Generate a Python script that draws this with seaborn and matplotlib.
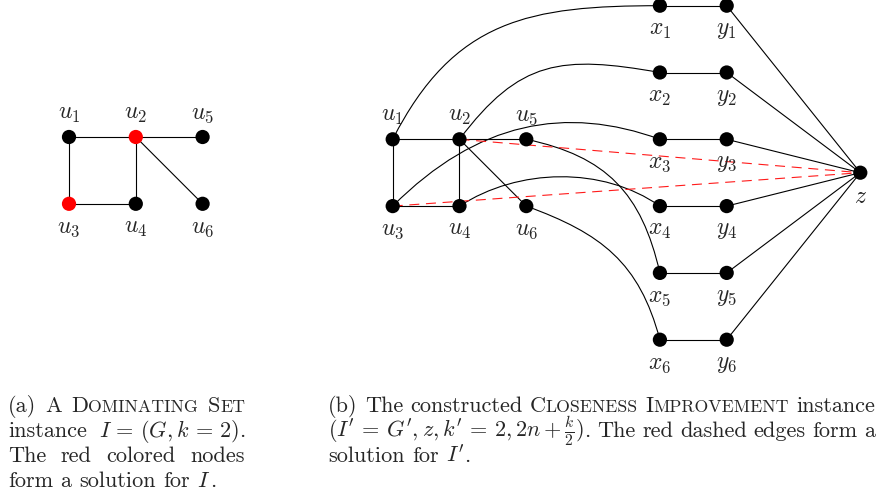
import numpy as np
import pandas as pd
import matplotlib
matplotlib.use("Agg")
import matplotlib.pyplot as plt
from matplotlib.path import Path
from matplotlib.patches import PathPatch
import seaborn as sns

sns.set_theme(style="white")
plt.rcParams["mathtext.fontset"] = "cm"
plt.rcParams["font.family"] = ["cmr10", "DejaVu Serif"]

# ---------------- data ----------------
# left graph G (dominating set instance)
left_nodes = ["u1", "u2", "u5", "u3", "u4", "u6"]
left_labels = [r"$u_1$", r"$u_2$", r"$u_5$", r"$u_3$", r"$u_4$", r"$u_6$"]
left_col = [0, 1, 2, 0, 1, 2]
left_row = [0, 0, 0, 1, 1, 1]
left_color = ["black", "red", "black", "red", "black", "black"]
left_edges = [("u1", "u2"), ("u2", "u5"), ("u1", "u3"), ("u3", "u4"),
              ("u2", "u4"), ("u2", "u6")]

# right graph G' (closeness improvement instance)
right_nodes = ["u1", "u2", "u5", "u3", "u4", "u6",
               "x1", "x2", "x3", "x4", "x5", "x6",
               "y1", "y2", "y3", "y4", "y5", "y6", "z"]
right_labels = [r"$u_1$", r"$u_2$", r"$u_5$", r"$u_3$", r"$u_4$", r"$u_6$",
                r"$x_1$", r"$x_2$", r"$x_3$", r"$x_4$", r"$x_5$", r"$x_6$",
                r"$y_1$", r"$y_2$", r"$y_3$", r"$y_4$", r"$y_5$", r"$y_6$", r"$z$"]
right_col = [0, 1, 2, 0, 1, 2, 4, 4, 4, 4, 4, 4, 5, 5, 5, 5, 5, 5, 7]
right_row = [2, 2, 2, 3, 3, 3, 0, 1, 2, 3, 4, 5, 0, 1, 2, 3, 4, 5, 2.5]
right_label_side = ["above"] * 3 + ["below"] * 16
right_edges = ([("u1", "u2"), ("u2", "u5"), ("u1", "u3"), ("u3", "u4"),
                ("u2", "u4"), ("u2", "u6")]
               + [(f"x{i}", f"y{i}") for i in range(1, 7)]
               + [(f"y{i}", "z") for i in range(1, 7)])
red_edges = [("u2", "z"), ("u3", "z")]
# curved edges u_i -> x_i : (out angle deg, out length, in angle deg, in length)
curve_edges = [("u1", "x1", 63, 135, 180, 130),
               ("u2", "x2", 53, 100, 170, 100),
               ("u3", "x3", 45, 120, 160, 100),
               ("u4", "x4", 33, 70, 145, 70),
               ("u5", "x5", -12, 82, 103, 82),
               ("u6", "x6", -20, 80, 105, 80)]

# ---------------- layout (pixel space) ----------------
W, H = 878, 502
fig = plt.figure(figsize=(W / 100, H / 100), dpi=100)
ax = fig.add_axes([0, 0, 1, 1])
ax.set_xlim(0, W)
ax.set_ylim(H, 0)
ax.axis("off")

UNIT = 66.8
LEFT_ORIGIN = (69.0, 138.0)
RIGHT_ORIGIN = (392.7, 6.7)
LW = 0.8
NODE_S = 105
LABEL_SIZE = 17

def positions(names, cols, rows, origin):
    return {n: (origin[0] + c * UNIT, origin[1] + r * UNIT)
            for n, c, r in zip(names, cols, rows)}

lpos = positions(left_nodes, left_col, left_row, LEFT_ORIGIN)
rpos = positions(right_nodes, right_col, right_row, RIGHT_ORIGIN)

# edges
for a, b in left_edges:
    ax.plot([lpos[a][0], lpos[b][0]], [lpos[a][1], lpos[b][1]],
            color="black", lw=LW, zorder=1)
for a, b in right_edges:
    ax.plot([rpos[a][0], rpos[b][0]], [rpos[a][1], rpos[b][1]],
            color="black", lw=LW, zorder=1)
for a, b in red_edges:
    ax.plot([rpos[a][0], rpos[b][0]], [rpos[a][1], rpos[b][1]],
            color="#ff1a1a", lw=LW, ls=(0, (9, 6)), zorder=2)
for a, b, ao, la, ai, lb in curve_edges:
    p0 = np.array(rpos[a]); p3 = np.array(rpos[b])
    p1 = p0 + la * np.array([np.cos(np.radians(ao)), -np.sin(np.radians(ao))])
    p2 = p3 + lb * np.array([np.cos(np.radians(ai)), -np.sin(np.radians(ai))])
    path = Path([p0, p1, p2, p3], [Path.MOVETO, Path.CURVE4, Path.CURVE4, Path.CURVE4])
    ax.add_patch(PathPatch(path, fill=False, edgecolor="black", lw=LW, zorder=1))

# nodes via seaborn
ldf = pd.DataFrame({"x": [lpos[n][0] for n in left_nodes],
                    "y": [lpos[n][1] for n in left_nodes],
                    "c": left_color})
rdf = pd.DataFrame({"x": [rpos[n][0] for n in right_nodes],
                    "y": [rpos[n][1] for n in right_nodes],
                    "c": ["black"] * len(right_nodes)})
pal = {"black": "black", "red": "#ff0000"}
sns.scatterplot(data=ldf, x="x", y="y", hue="c", palette=pal, s=NODE_S,
                linewidth=0, legend=False, ax=ax, zorder=3)
sns.scatterplot(data=rdf, x="x", y="y", hue="c", palette=pal, s=NODE_S,
                linewidth=0, legend=False, ax=ax, zorder=3)
ax.set_xlim(0, W)
ax.set_ylim(H, 0)
ax.axis("off")

# labels
for n, lab, r in zip(left_nodes, left_labels, left_row):
    x, y = lpos[n]
    dy = -24 if r == 0 else 23
    ax.text(x, y + dy, lab, fontsize=LABEL_SIZE, ha="center", va="center")
for n, lab, side in zip(right_nodes, right_labels, right_label_side):
    x, y = rpos[n]
    dy = -24 if side == "above" else 23
    ax.text(x, y + dy, lab, fontsize=LABEL_SIZE, ha="center", va="center")

# ---------------- captions ----------------
CAP_SIZE = 16
SC = 0.8
renderer = fig.canvas.get_renderer()

def sc(word):
    return [(word[0], 1.0), (word[1:], SC)]

def render_line(words, x_left, x_right, y, justify):
    objs, widths = [], []
    for w in words:
        pieces, ww = [], 0.0
        for s, scale in w:
            t = ax.text(0, y, s, fontsize=CAP_SIZE * scale, ha="left", va="baseline")
            bw = t.get_window_extent(renderer).width
            pieces.append((t, bw))
            ww += bw
        objs.append(pieces)
        widths.append(ww)
    if justify and len(words) > 1:
        gap = (x_right - x_left - sum(widths)) / (len(words) - 1)
    else:
        gap = CAP_SIZE * 100 / 72 * 0.333
    x = x_left
    for pieces in objs:
        for t, bw in pieces:
            t.set_x(x)
            x += bw
        x += gap

cap_a = [
    [[("(a)", 1)], [("A", 1)], sc("DOMINATING"), sc("SET")],
    [[("instance", 1)], [(r"$I\,=\,(G,k\,=\,2)$", 1), (".", 1)]],
    [[("The", 1)], [("red", 1)], [("colored", 1)], [("nodes", 1)]],
    [[("form", 1)], [("a", 1)], [("solution", 1)], [("for", 1)], [(r"$I$", 1), (".", 1)]],
]
cap_b = [
    [[("(b)", 1)], [("The", 1)], [("constructed", 1)], sc("CLOSENESS"),
     sc("IMPROVEMENT"), [("instance", 1)]],
    [[(r"$(I'\,=\,G',z,k'\,=\,2,2n+\frac{k}{2})$", 1), (".", 1)], [("The", 1)], [("red", 1)],
     [("dashed", 1)], [("edges", 1)], [("form", 1)], [("a", 1)]],
    [[("solution", 1)], [("for", 1)], [(r"$I'$", 1), (".", 1)]],
]
baselines = [412, 437, 462, 487]
for i, words in enumerate(cap_a):
    render_line(words, 8, 245, baselines[i], justify=(i < len(cap_a) - 1))
for i, words in enumerate(cap_b):
    render_line(words, 328, 875, baselines[i], justify=(i < len(cap_b) - 1))

fig.savefig("out.png", dpi=100)
